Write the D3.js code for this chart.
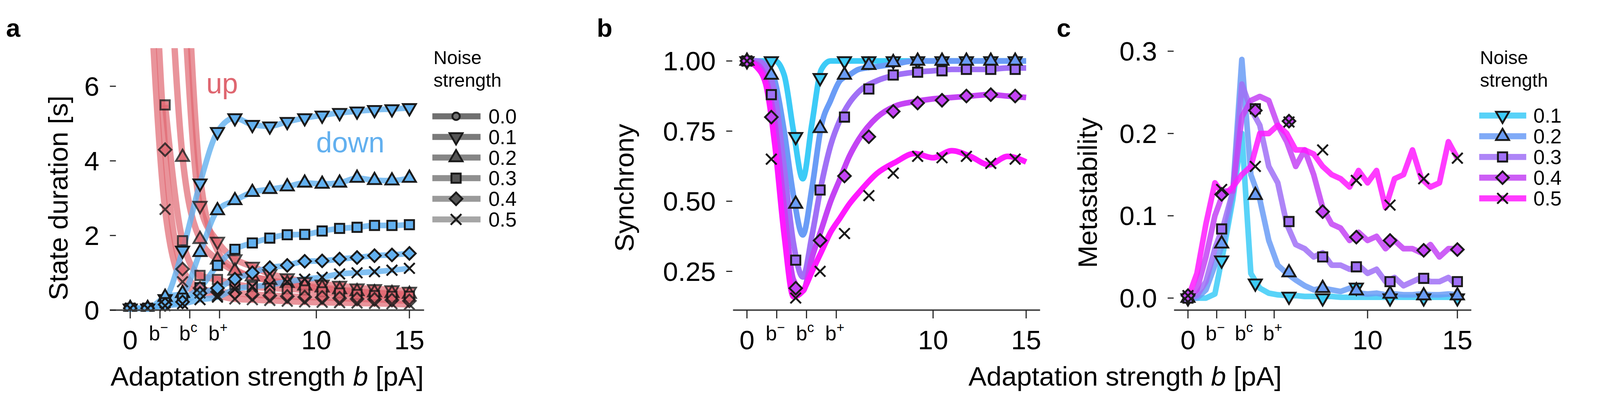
<!DOCTYPE html>
<html><head><meta charset="utf-8">
<script src="https://cdn.jsdelivr.net/npm/d3@7"></script>
<style>html,body{margin:0;padding:0;background:#fff;overflow:hidden}#fig{display:block;width:100vw;height:100vh}text{font-family:"Liberation Sans",Arial,sans-serif}</style>
</head><body><svg id="fig" viewBox="0 0 4252 1052" preserveAspectRatio="xMidYMid meet"></svg>
<script>
// ---- data ----
const NOISE = ['0.1', '0.2', '0.3', '0.4', '0.5'];
const LEGEND_A = ['0.0', '0.1', '0.2', '0.3', '0.4', '0.5'];
const SPECIAL_TICKS = [['b', '\u2212', 1.6], ['b', 'c', 3.2], ['b', '+', 4.8]];

// panel a: state durations at marker positions b = i*15/16
const B_A = d3.range(17).map(i => i * 15 / 16);
const UP = {
  '0.1': [null, null, null, 9, 2.8, 1.84, 1.37, 1.17, 0.97, 0.86, 0.76, 0.69, 0.66, 0.59, 0.57, 0.54, 0.5],
  '0.2': [null, null, 12, 4.1, 1.9, 1.35, 1.05, 0.9, 0.8, 0.72, 0.65, 0.6, 0.55, 0.5, 0.47, 0.45, 0.43],
  '0.3': [null, null, 5.5, 1.86, 0.93, 0.82, 0.69, 0.63, 0.59, 0.57, 0.54, 0.49, 0.46, 0.42, 0.39, 0.37, 0.37],
  '0.4': [null, 14, 4.3, 1.1, 0.59, 0.49, 0.46, 0.42, 0.39, 0.37, 0.35, 0.34, 0.32, 0.3, 0.29, 0.27, 0.25],
  '0.5': [null, 10, 2.7, 0.76, 0.46, 0.39, 0.3, 0.28, 0.26, 0.24, 0.22, 0.21, 0.2, 0.19, 0.18, 0.17, 0.15]
};
const UP0 = [null, null, null, 12, 3.6, 1.6, 1.1, 0.9, 0.8, 0.7, 0.62, 0.56, 0.52, 0.48, 0.45, 0.42, 0.4];
const DOWN = {
  '0.1': [0.05, 0.05, 0.3, 1.6, 3.4, 4.78, 5.15, 4.97, 4.93, 5.05, 5.15, 5.22, 5.29, 5.33, 5.37, 5.39, 5.42],
  '0.2': [0.05, 0.05, 0.35, 0.45, 1.55, 2.67, 2.94, 3.16, 3.24, 3.31, 3.41, 3.38, 3.41, 3.54, 3.48, 3.47, 3.54],
  '0.3': [0.05, 0.05, 0.2, 0.32, 0.6, 1.2, 1.63, 1.8, 1.93, 2.02, 2.03, 2.12, 2.19, 2.22, 2.27, 2.27, 2.29],
  '0.4': [0.05, 0.05, 0.15, 0.22, 0.45, 0.59, 0.83, 1.0, 1.14, 1.2, 1.31, 1.32, 1.37, 1.41, 1.46, 1.48, 1.52],
  '0.5': [0.05, 0.05, 0.12, 0.17, 0.28, 0.35, 0.56, 0.63, 0.68, 0.76, 0.83, 0.88, 0.97, 1.0, 1.03, 1.07, 1.12]
};

// panel b: synchrony
const B_LINE_B = [0, 0.5, 1, 1.5, 2, 2.5, 3, 3.5, 4, 4.5, 5, 5.5, 6, 7, 8, 9, 10, 11, 12, 13, 14, 15];
const SYNC = {
  '0.1': [1, 1, 1, 1, 0.95, 0.75, 0.58, 0.78, 0.97, 1, 1, 1, 1, 1, 1, 1, 1, 1, 1, 1, 1, 1],
  '0.2': [1, 1, 0.99, 0.93, 0.75, 0.52, 0.38, 0.55, 0.77, 0.86, 0.93, 0.95, 0.97, 0.98, 0.99, 1, 1, 1, 1, 1, 1, 1],
  '0.3': [1, 1, 0.98, 0.88, 0.62, 0.35, 0.23, 0.38, 0.56, 0.7, 0.79, 0.85, 0.89, 0.93, 0.95, 0.96, 0.965, 0.97, 0.97, 0.97, 0.975, 0.975],
  '0.4': [1, 0.99, 0.94, 0.78, 0.48, 0.22, 0.18, 0.3, 0.4, 0.5, 0.58, 0.66, 0.72, 0.8, 0.84, 0.855, 0.865, 0.87, 0.875, 0.88, 0.875, 0.87],
  '0.5': [1, 0.98, 0.92, 0.7, 0.38, 0.16, 0.18, 0.25, 0.32, 0.39, 0.44, 0.49, 0.53, 0.6, 0.64, 0.67, 0.655, 0.68, 0.66, 0.63, 0.66, 0.64]
};
const B_MARK_B = d3.range(12).map(i => i * 1.31);
const SYNC_MARK = {
  '0.1': [1, 1, 0.73, 0.94, 1, 1, 1, 1, 1, 1, 1, 1],
  '0.2': [1, 0.95, 0.49, 0.76, 0.95, 0.985, 0.995, 1, 1, 1, 1, 1],
  '0.3': [1, 0.88, 0.29, 0.54, 0.8, 0.9, 0.95, 0.96, 0.965, 0.97, 0.97, 0.97],
  '0.4': [1, 0.8, 0.19, 0.36, 0.59, 0.73, 0.82, 0.85, 0.86, 0.875, 0.88, 0.875],
  '0.5': [1, 0.65, 0.155, 0.25, 0.385, 0.52, 0.6, 0.66, 0.655, 0.66, 0.635, 0.65]
};

// panel c: metastability
const B_LINE_C = d3.range(31).map(i => i * 0.5);
const META = {
  '0.1': [0, 0, 0, 0.005, 0.06, 0.12, 0.2, 0.03, 0.012, 0.006, 0.004, 0.003, 0.003, 0.002, 0.002, 0.002, 0.002, 0.001, 0.001, 0.001, 0.001, 0.001, 0.001, 0.001, 0.001, 0.001, 0.001, 0.001, 0.001, 0.001, 0.001],
  '0.2': [0, 0, 0.01, 0.04, 0.07, 0.13, 0.29, 0.15, 0.12, 0.07, 0.04, 0.03, 0.022, 0.015, 0.01, 0.012, 0.01, 0.008, 0.012, 0.006, 0.005, 0.006, 0.004, 0.005, 0.004, 0.004, 0.005, 0.004, 0.004, 0.005, 0.004],
  '0.3': [0, 0.003, 0.02, 0.06, 0.09, 0.13, 0.26, 0.23, 0.21, 0.16, 0.14, 0.09, 0.065, 0.06, 0.05, 0.055, 0.04, 0.04, 0.035, 0.04, 0.03, 0.035, 0.02, 0.025, 0.015, 0.02, 0.025, 0.02, 0.02, 0.025, 0.015],
  '0.4': [0, 0.01, 0.05, 0.1, 0.13, 0.13, 0.22, 0.24, 0.245, 0.24, 0.21, 0.19, 0.16, 0.18, 0.15, 0.11, 0.09, 0.085, 0.07, 0.08, 0.07, 0.075, 0.06, 0.07, 0.06, 0.06, 0.055, 0.065, 0.05, 0.06, 0.06],
  '0.5': [0, 0.03, 0.09, 0.14, 0.125, 0.135, 0.15, 0.16, 0.2, 0.2, 0.21, 0.2, 0.18, 0.18, 0.175, 0.16, 0.15, 0.145, 0.135, 0.155, 0.14, 0.155, 0.11, 0.145, 0.15, 0.18, 0.145, 0.135, 0.14, 0.19, 0.17]
};
const C_MARK_B = d3.range(9).map(i => i * 1.875);
const META_MARK = {
  '0.1': [0, 0.046, 0.018, 0.002, 0, 0.013, 0, 0, 0],
  '0.2': [0, 0.066, 0.125, 0.031, 0.012, 0.009, 0.005, 0.003, 0.003],
  '0.3': [0, 0.084, 0.23, 0.093, 0.05, 0.038, 0.02, 0.024, 0.02],
  '0.4': [0.003, 0.126, 0.228, 0.215, 0.105, 0.074, 0.07, 0.058, 0.059],
  '0.5': [0.003, 0.132, 0.16, 0.214, 0.18, 0.143, 0.113, 0.145, 0.17]
};

const COLORS = { '0.1': '#3ccbf7', '0.2': '#6a9cf6', '0.3': '#a070f6', '0.4': '#c443f4', '0.5': '#ff19ff' };
const GRAYS = ['#707070', '#7a7a7a', '#858585', '#8f8f8f', '#9a9a9a', '#a6a6a6'];
const RED = '#df6670', BLUE = '#62b0ef';

// ---- helpers ----
const svg = d3.select('#fig');
const FONT = 72, TICKF = 72, LEGF = 54;

const SYM = { '0.0': [d3.symbolCircle, 300], '0.1': [d3.symbolTriangle, 520], '0.2': [d3.symbolTriangle, 520],
              '0.3': [d3.symbolSquare, 600], '0.4': [d3.symbolSquare, 560], '0.5': [d3.symbolTimes, 520] };
function marker(g, n, x, y, fill, op = 1) {
  const [s, size] = SYM[n];
  const r = n === '0.1' ? 180 : n === '0.4' ? 45 : 0;
  g.append('path').attr('d', d3.symbol(s, size)())
    .attr('transform', `translate(${x},${y}) rotate(${r})`)
    .attr('fill', n === '0.5' || n === '0.0' ? 'none' : fill)
    .attr('stroke', '#1a1a1a').attr('stroke-width', 5).attr('opacity', op);
}

function axes(x, y, xr, yTicks, fmt, tickX) {
  const g = svg.append('g');
  const y0 = 804;
  g.append('line').attr('x1', xr[0]).attr('x2', xr[1]).attr('y1', y0).attr('y2', y0)
    .attr('stroke', '#444').attr('stroke-width', 4);
  [0, 10, 15].forEach(t => {
    g.append('line').attr('x1', x(t)).attr('x2', x(t)).attr('y1', y0).attr('y2', y0 + 22).attr('stroke', '#222').attr('stroke-width', 3);
    g.append('text').attr('x', x(t)).attr('y', y0 + 104).attr('text-anchor', 'middle').attr('font-size', TICKF).text(t);
  });
  SPECIAL_TICKS.forEach(([b, sup, v]) => {
    g.append('line').attr('x1', x(v)).attr('x2', x(v)).attr('y1', y0).attr('y2', y0 + 22).attr('stroke', '#222').attr('stroke-width', 3);
    const t = g.append('text').attr('x', x(v) - 4).attr('y', y0 + 80).attr('text-anchor', 'middle').attr('font-size', 54);
    t.append('tspan').text(b);
    t.append('tspan').attr('dy', -22).attr('font-size', 36).text(sup);
  });
  yTicks.forEach(t => {
    g.append('line').attr('x1', tickX).attr('x2', tickX + 16).attr('y1', y(t)).attr('y2', y(t)).attr('stroke', '#222').attr('stroke-width', 3);
    g.append('text').attr('x', tickX - 28).attr('y', y(t) + 25).attr('text-anchor', 'end').attr('font-size', TICKF).text(fmt(t));
  });
  return g;
}
function ylabel(text, x, y) {
  svg.append('text').attr('transform', `translate(${x},${y}) rotate(-90)`).attr('text-anchor', 'middle')
    .attr('font-size', FONT).text(text);
}
function xlabel(x, y) {
  const t = svg.append('text').attr('x', x).attr('y', y).attr('text-anchor', 'middle').attr('font-size', FONT);
  t.append('tspan').text('Adaptation strength ');
  t.append('tspan').attr('font-style', 'italic').text('b');
  t.append('tspan').text(' [pA]');
}
function letter(l, x) {
  svg.append('text').attr('x', x).attr('y', 78).attr('font-size', 68).attr('font-weight', 'bold').text(l);
}

// ---- panel a ----
{
  const x = d3.scaleLinear().domain([0, 15]).range([346, 1088]);
  const y = d3.scaleLinear().domain([0, 7]).range([804, 110]);
  svg.append('defs').append('clipPath').attr('id', 'clipA').append('rect')
    .attr('x', 280).attr('y', 108).attr('width', 860).attr('height', 700);
  const g = svg.append('g').attr('clip-path', 'url(#clipA)');
  const line = d3.line().defined(d => d[1] != null).x(d => x(d[0])).y(d => y(d[1])).curve(d3.curveMonotoneX);
  [UP0, ...NOISE.map(n => UP[n])].forEach(arr => {
    g.append('path').attr('d', line(B_A.map((b, i) => [b, arr[i]]))).attr('fill', 'none')
      .attr('stroke', RED).attr('stroke-width', 17).attr('opacity', 0.7);
  });
  NOISE.forEach(n => {
    g.append('path').attr('d', line(B_A.map((b, i) => [b, DOWN[n][i]]))).attr('fill', 'none')
      .attr('stroke', BLUE).attr('stroke-width', 15).attr('opacity', 0.8);
  });
  NOISE.forEach(n => {
    B_A.forEach((b, i) => {
      if (UP[n][i] != null && UP[n][i] < 7 && i >= 2) marker(g, n, x(b), y(UP[n][i]), RED, 0.8);
    });
    B_A.forEach((b, i) => marker(g, n, x(b), y(DOWN[n][i]), BLUE));
  });
  axes(x, y, [292, 1127], [0, 2, 4, 6], d3.format('d'), 292);
  svg.append('text').attr('x', 548).attr('y', 228).attr('font-size', 76).attr('fill', RED).text('up');
  svg.append('text').attr('x', 840).attr('y', 385).attr('font-size', 76).attr('fill', BLUE).text('down');
  ylabel('State duration [s]', 180, 506);
  xlabel(710, 1005);
  letter('a', 16);
  const lg = svg.append('g');
  lg.append('text').attr('x', 1152).attr('y', 150).attr('font-size', 50).text('Noise');
  lg.append('text').attr('x', 1152).attr('y', 210).attr('font-size', 50).text('strength');
  LEGEND_A.forEach((n, i) => {
    const yy = 289 + i * 54.8;
    lg.append('line').attr('x1', 1149).attr('x2', 1277).attr('y1', yy).attr('y2', yy).attr('stroke', GRAYS[i]).attr('stroke-width', 16);
    marker(lg, n, 1212, yy, '#555');
    lg.append('text').attr('x', 1298).attr('y', yy + 19).attr('font-size', LEGF).text(n);
  });
}

// ---- panel b ----
{
  const x = d3.scaleLinear().domain([0, 15]).range([1985, 2727]);
  const y = d3.scaleLinear().domain([0.25, 1]).range([701, 142]);
  const g = svg.append('g');
  const line = d3.line().x(d => x(d[0])).y(d => y(d[1])).curve(d3.curveMonotoneX);
  NOISE.forEach(n => {
    g.append('path').attr('d', line(B_LINE_B.map((b, i) => [b, SYNC[n][i]]))).attr('fill', 'none')
      .attr('stroke', COLORS[n]).attr('stroke-width', 15);
  });
  NOISE.forEach(n => B_MARK_B.forEach((b, i) => marker(g, n, x(b), y(SYNC_MARK[n][i]), COLORS[n])));
  axes(x, y, [1948, 2764], [0.25, 0.5, 0.75, 1], d3.format('.2f'), 1930);
  ylabel('Synchrony', 1684, 479);
  letter('b', 1586);
}

// ---- panel c ----
{
  const x = d3.scaleLinear().domain([0, 15]).range([3157, 3873]);
  const y = d3.scaleLinear().domain([0, 0.3]).range([772, 116]);
  const g = svg.append('g');
  const line = d3.line().x(d => x(d[0])).y(d => y(d[1]));
  NOISE.forEach(n => {
    g.append('path').attr('d', line(B_LINE_C.map((b, i) => [b, META[n][i]]))).attr('fill', 'none')
      .attr('stroke', COLORS[n]).attr('stroke-width', 15).attr('opacity', 0.85).attr('stroke-linejoin', 'round');
  });
  NOISE.forEach(n => C_MARK_B.forEach((b, i) => marker(g, n, x(b), y(META_MARK[n][i]), COLORS[n])));
  axes(x, y, [3120, 3910], [0, 0.1, 0.2, 0.3], d3.format('.1f'), 3103);
  ylabel('Metastability', 2915, 492);
  letter('c', 2808);
  const lg = svg.append('g');
  lg.append('text').attr('x', 3933).attr('y', 150).attr('font-size', 50).text('Noise');
  lg.append('text').attr('x', 3933).attr('y', 210).attr('font-size', 50).text('strength');
  NOISE.forEach((n, i) => {
    const yy = 287 + i * 55;
    lg.append('line').attr('x1', 3931).attr('x2', 4056).attr('y1', yy).attr('y2', yy).attr('stroke', COLORS[n]).attr('stroke-width', 16).attr('opacity', 0.85);
    marker(lg, n, 3993, yy, COLORS[n]);
    lg.append('text').attr('x', 4075).attr('y', yy + 19).attr('font-size', LEGF).text(n);
  });
}
xlabel(2990, 1005);
</script></body></html>
